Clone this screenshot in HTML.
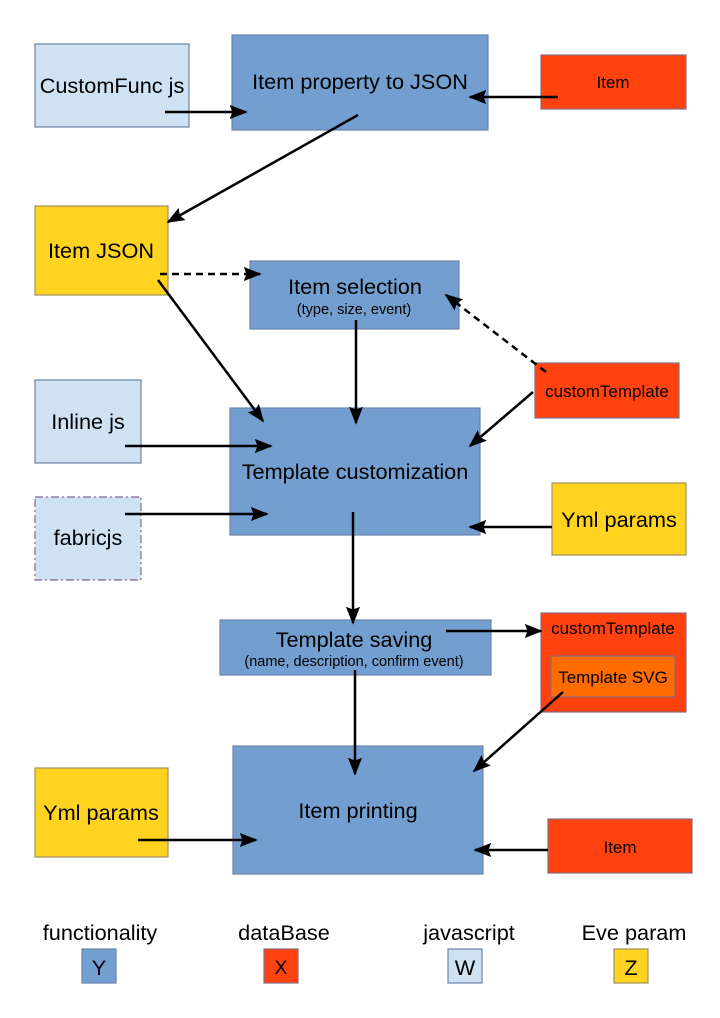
<!DOCTYPE html>
<html><head><meta charset="utf-8"><style>
html,body{margin:0;padding:0;background:#fff;}
svg{display:block;}
text{font-family:"Liberation Sans",sans-serif;fill:#000;}
</style></head><body>
<svg width="720" height="1018" viewBox="0 0 720 1018" xmlns="http://www.w3.org/2000/svg">
<defs>
<marker id="a" viewBox="0 0 10 10" refX="9" refY="5" markerWidth="18" markerHeight="18" markerUnits="userSpaceOnUse" orient="auto"><path d="M0,1.1 L10,5 L0,8.9 L1.5,5 z" fill="#000"/></marker>
</defs>
<g stroke="#6a84a8" stroke-width="1.2">
<rect x="35" y="44" width="154" height="83" fill="#cfe2f3"/>
<rect x="232" y="35" width="256" height="95" fill="#729fcf"/>
<rect x="541" y="55" width="145" height="54" fill="#ff420e" stroke="#8a6a80"/>
<rect x="35" y="206" width="133" height="89" fill="#ffd320" stroke="#a09060"/>
<rect x="250" y="261" width="209" height="68" fill="#729fcf"/>
<rect x="535" y="363" width="144" height="55" fill="#ff420e" stroke="#8a6a80"/>
<rect x="35" y="380" width="106" height="83" fill="#cfe2f3"/>
<rect x="230" y="408" width="250" height="127" fill="#729fcf"/>
<rect x="35" y="497" width="106" height="83" fill="#cfe2f3" stroke="#806a90" stroke-dasharray="8,3,2,3"/>
<rect x="552" y="483" width="134" height="72" fill="#ffd320" stroke="#a09060"/>
<rect x="220" y="620" width="271" height="55" fill="#729fcf"/>
<rect x="541" y="613" width="145" height="99" fill="#ff420e" stroke="#8a6a80"/>
<rect x="551" y="656" width="124" height="41" fill="#ff6d00" stroke="#8a6a80"/>
<rect x="35" y="768" width="133" height="89" fill="#ffd320" stroke="#a09060"/>
<rect x="233" y="746" width="250" height="128" fill="#729fcf"/>
<rect x="548" y="819" width="144" height="54" fill="#ff420e" stroke="#8a6a80"/>
<rect x="82" y="949" width="34" height="34" fill="#729fcf"/>
<rect x="264" y="949" width="34" height="34" fill="#ff420e" stroke="#8a6a80"/>
<rect x="448" y="949" width="34" height="34" fill="#cfe2f3"/>
<rect x="614" y="949" width="34" height="34" fill="#ffd320" stroke="#a09060"/>
</g>
<g font-size="21.7" text-anchor="middle">
<text x="112" y="93">CustomFunc js</text>
<text x="360" y="89">Item property to JSON</text>
<text x="101" y="258">Item JSON</text>
<text x="355" y="294">Item selection</text>
<text x="88" y="429">Inline js</text>
<text x="355" y="479">Template customization</text>
<text x="88" y="545">fabricjs</text>
<text x="619" y="527">Yml params</text>
<text x="354" y="647">Template saving</text>
<text x="101" y="820">Yml params</text>
<text x="358" y="818">Item printing</text>
<text x="100" y="940">functionality</text>
<text x="284" y="940">dataBase</text>
<text x="469" y="940">javascript</text>
<text x="634" y="940">Eve param</text>
<text x="99" y="975">Y</text>
<text x="281" y="974" font-size="19">X</text>
<text x="465" y="975">W</text>
<text x="631" y="975">Z</text>
</g>
<g font-size="17" text-anchor="middle">
<text x="613" y="88">Item</text>
<text x="607" y="397">customTemplate</text>
<text x="613" y="634">customTemplate</text>
<text x="613" y="683">Template SVG</text>
<text x="620" y="853">Item</text>
</g>
<g font-size="14.5" text-anchor="middle">
<text x="354" y="314">(type, size, event)</text>
<text x="354" y="666">(name, description, confirm event)</text>
</g>
<g stroke="#000" stroke-width="2.5" fill="none" marker-end="url(#a)">
<line x1="165" y1="112" x2="246" y2="112"/>
<line x1="558" y1="97" x2="470" y2="97"/>
<line x1="358" y1="115" x2="168" y2="222"/>
<line x1="160" y1="274" x2="260" y2="274" stroke-dasharray="7,5"/>
<line x1="546" y1="372" x2="446" y2="295" stroke-dasharray="7,5"/>
<line x1="356" y1="320" x2="356" y2="423"/>
<line x1="158" y1="280" x2="263" y2="421"/>
<line x1="125" y1="446" x2="271" y2="446"/>
<line x1="125" y1="514" x2="267" y2="514"/>
<line x1="533" y1="392" x2="470" y2="446"/>
<line x1="552" y1="527" x2="470" y2="527"/>
<line x1="353" y1="512" x2="353" y2="623"/>
<line x1="446" y1="631" x2="541" y2="631"/>
<line x1="355" y1="670" x2="355" y2="774"/>
<line x1="563" y1="692" x2="474" y2="771"/>
<line x1="138" y1="840" x2="256" y2="840"/>
<line x1="548" y1="850" x2="475" y2="850"/>
</g>
</svg>
</body></html>
